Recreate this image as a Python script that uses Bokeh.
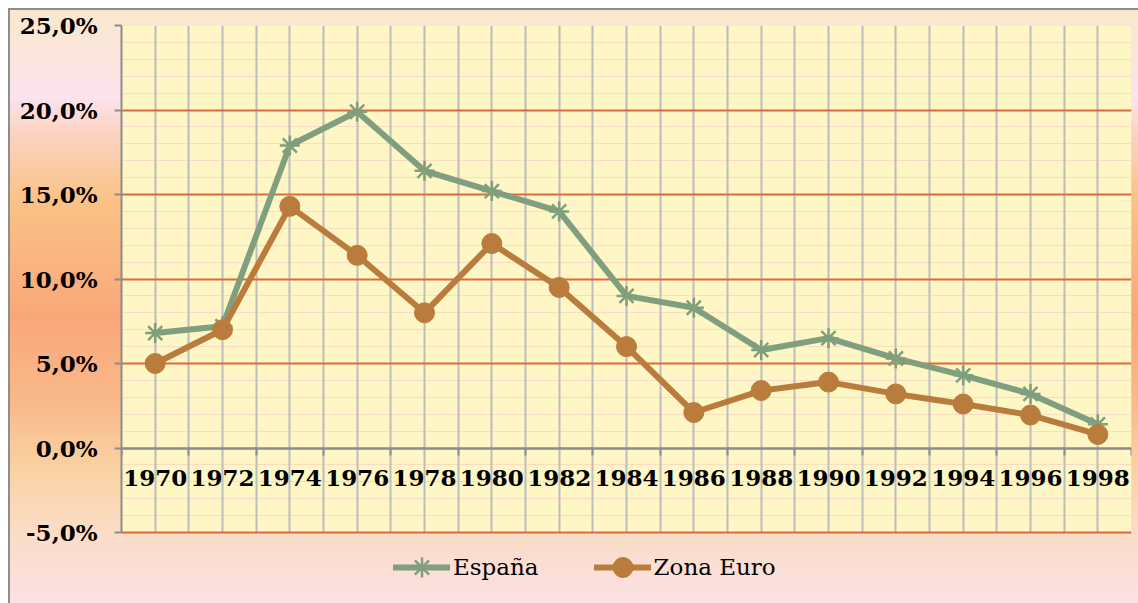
from bokeh.plotting import figure
from bokeh.models import (Range1d, FixedTicker, LinearAxis, Legend, LegendItem, Grid,
                          BoxAnnotation)
from bokeh.embed import file_html
from bokeh.resources import INLINE

years = [1970, 1972, 1974, 1976, 1978, 1980, 1982, 1984, 1986, 1988, 1990, 1992, 1994, 1996, 1998]
espana = [6.8, 7.2, 17.9, 19.9, 16.4, 15.2, 14.0, 9.0, 8.3, 5.8, 6.5, 5.3, 4.3, 3.2, 1.4]
zona_euro = [5.0, 7.0, 14.3, 11.4, 8.0, 12.1, 9.5, 6.0, 2.1, 3.4, 3.9, 3.2, 2.6, 1.95, 0.8]
y_ticks = [-5, 0, 5, 10, 15, 20, 25]
y_tick_labels = ["-5,0%", "0,0%", "5,0%", "10,0%", "15,0%", "20,0%", "25,0%"]
series_names = ["España", "Zona Euro"]

GREEN = "#7F9F7E"
ORANGE = "#B97C3D"
FONT = "DejaVu Serif"

# layout (pixels)
W, H = 1130, 595
TOP, LEFT, RIGHT = 17, 113, 7
PLOT_PX = 507           # pixel height of the -5%..25% plot area
frame_h = H - TOP

y_lo_val, y_hi_val = y_ticks[0], y_ticks[-1]
y_min = y_hi_val - frame_h * (y_hi_val - y_lo_val) / PLOT_PX  # frame continues below plot area for legend

x_lo = years[0] - 1
x_hi = years[-1] + 1
all_years = list(range(x_lo, x_hi + 1))
bounds = [y - 1 for y in years] + [years[-1] + 1]
minor_y = list(range(y_lo_val, y_hi_val + 1))

p = figure(width=W, height=H,
           x_range=Range1d(x_lo, x_hi), y_range=Range1d(y_min, y_hi_val),
           output_backend="svg", toolbar_location=None,
           x_axis_location=None, y_axis_location="left",
           min_border_left=LEFT, min_border_top=TOP, min_border_right=RIGHT, min_border_bottom=0)

p.background_fill_color = None
p.border_fill_color = None
p.outline_line_color = None
p.styles = {
    "margin": "8px 0 0 8px",
    "background": "linear-gradient(to bottom, #FAE8CB 0%, #FCE3EE 15%, #FBD3C2 21%, #FAC387 32%, "
                  "#F9A779 52%, #F9B98A 66%, #FAD3A4 78%, #FBDCC6 88%, #FCE1E3 100%)",
    "box-shadow": "inset 2px 2px 0 0 #8E8E8E",
}

for g in list(p.grid):
    g.visible = False

plot_bg = BoxAnnotation(bottom=y_lo_val, top=y_hi_val, fill_color="#FEF6C4", fill_alpha=1,
                        line_color=None, level="underlay")
p.add_layout(plot_bg)

ygrid_minor = Grid(dimension=1, ticker=FixedTicker(ticks=[], minor_ticks=minor_y),
                   grid_line_color=None, minor_grid_line_color="#F8DCC4", minor_grid_line_width=1)
p.add_layout(ygrid_minor)

if "cross_bounds" in Grid.properties():
    xgrid = Grid(dimension=0, ticker=FixedTicker(ticks=all_years),
                 grid_line_color="#BDBDBD", grid_line_width=2, cross_bounds=(y_lo_val, y_hi_val))
    p.add_layout(xgrid)
else:
    p.segment(x0=all_years, y0=[y_lo_val] * len(all_years), x1=all_years,
              y1=[y_hi_val] * len(all_years), line_color="#BDBDBD", line_width=2, level="underlay")

ygrid_major = Grid(dimension=1, ticker=FixedTicker(ticks=y_ticks),
                   grid_line_color="#E0683F", grid_line_width=2)
p.add_layout(ygrid_major)

yax = p.yaxis[0]
yax.ticker = FixedTicker(ticks=y_ticks)
yax.bounds = (y_lo_val, y_hi_val)
yax.major_label_overrides = dict(zip(y_ticks, y_tick_labels))
yax.axis_line_color = "#8C8C8C"
yax.axis_line_width = 2
yax.major_tick_line_color = "#8C8C8C"
yax.major_tick_line_width = 2
yax.major_tick_out = 7
yax.major_tick_in = 0
yax.minor_tick_line_color = None
yax.major_label_text_font = FONT
yax.major_label_text_font_style = "bold"
yax.major_label_text_font_size = "23px"
yax.major_label_text_color = "#000000"
yax.major_label_standoff = 17

ax_ticks = LinearAxis(fixed_location=0, ticker=FixedTicker(ticks=bounds),
                      major_label_text_color=None, axis_line_color="#8C8C8C", axis_line_width=2,
                      major_tick_line_color="#8C8C8C", major_tick_line_width=2,
                      major_tick_out=7, major_tick_in=0, minor_tick_line_color=None)
ax_labels = LinearAxis(fixed_location=0, ticker=FixedTicker(ticks=years),
                       axis_line_color=None, major_tick_line_color=None, minor_tick_line_color=None,
                       major_label_standoff=16, major_label_text_font=FONT,
                       major_label_text_font_style="bold", major_label_text_font_size="23px",
                       major_label_text_color="#000000")
p.add_layout(ax_ticks, "below")
p.add_layout(ax_labels, "below")

es_line = p.line(years, espana, line_color=GREEN, line_width=6, line_join="round", line_cap="round")
es_pts = p.scatter(years, espana, marker="asterisk", size=20, line_color=GREEN, line_width=2.5)
eu_line = p.line(years, zona_euro, line_color=ORANGE, line_width=6, line_join="round", line_cap="round")
eu_pts = p.scatter(years, zona_euro, marker="circle", size=20, fill_color=ORANGE, line_color=ORANGE)

legend = Legend(items=[LegendItem(label=series_names[0], renderers=[es_line, es_pts]),
                       LegendItem(label=series_names[1], renderers=[eu_line, eu_pts])],
                orientation="horizontal", location=(272, 11),
                glyph_width=57, glyph_height=50, label_standoff=3, spacing=55,
                padding=0, margin=0, background_fill_alpha=0, border_line_color=None,
                label_text_font=FONT, label_text_font_size="23px", label_text_color="#000000")
p.add_layout(legend, "center")

open("out.html", "w").write(file_html(p, INLINE))
